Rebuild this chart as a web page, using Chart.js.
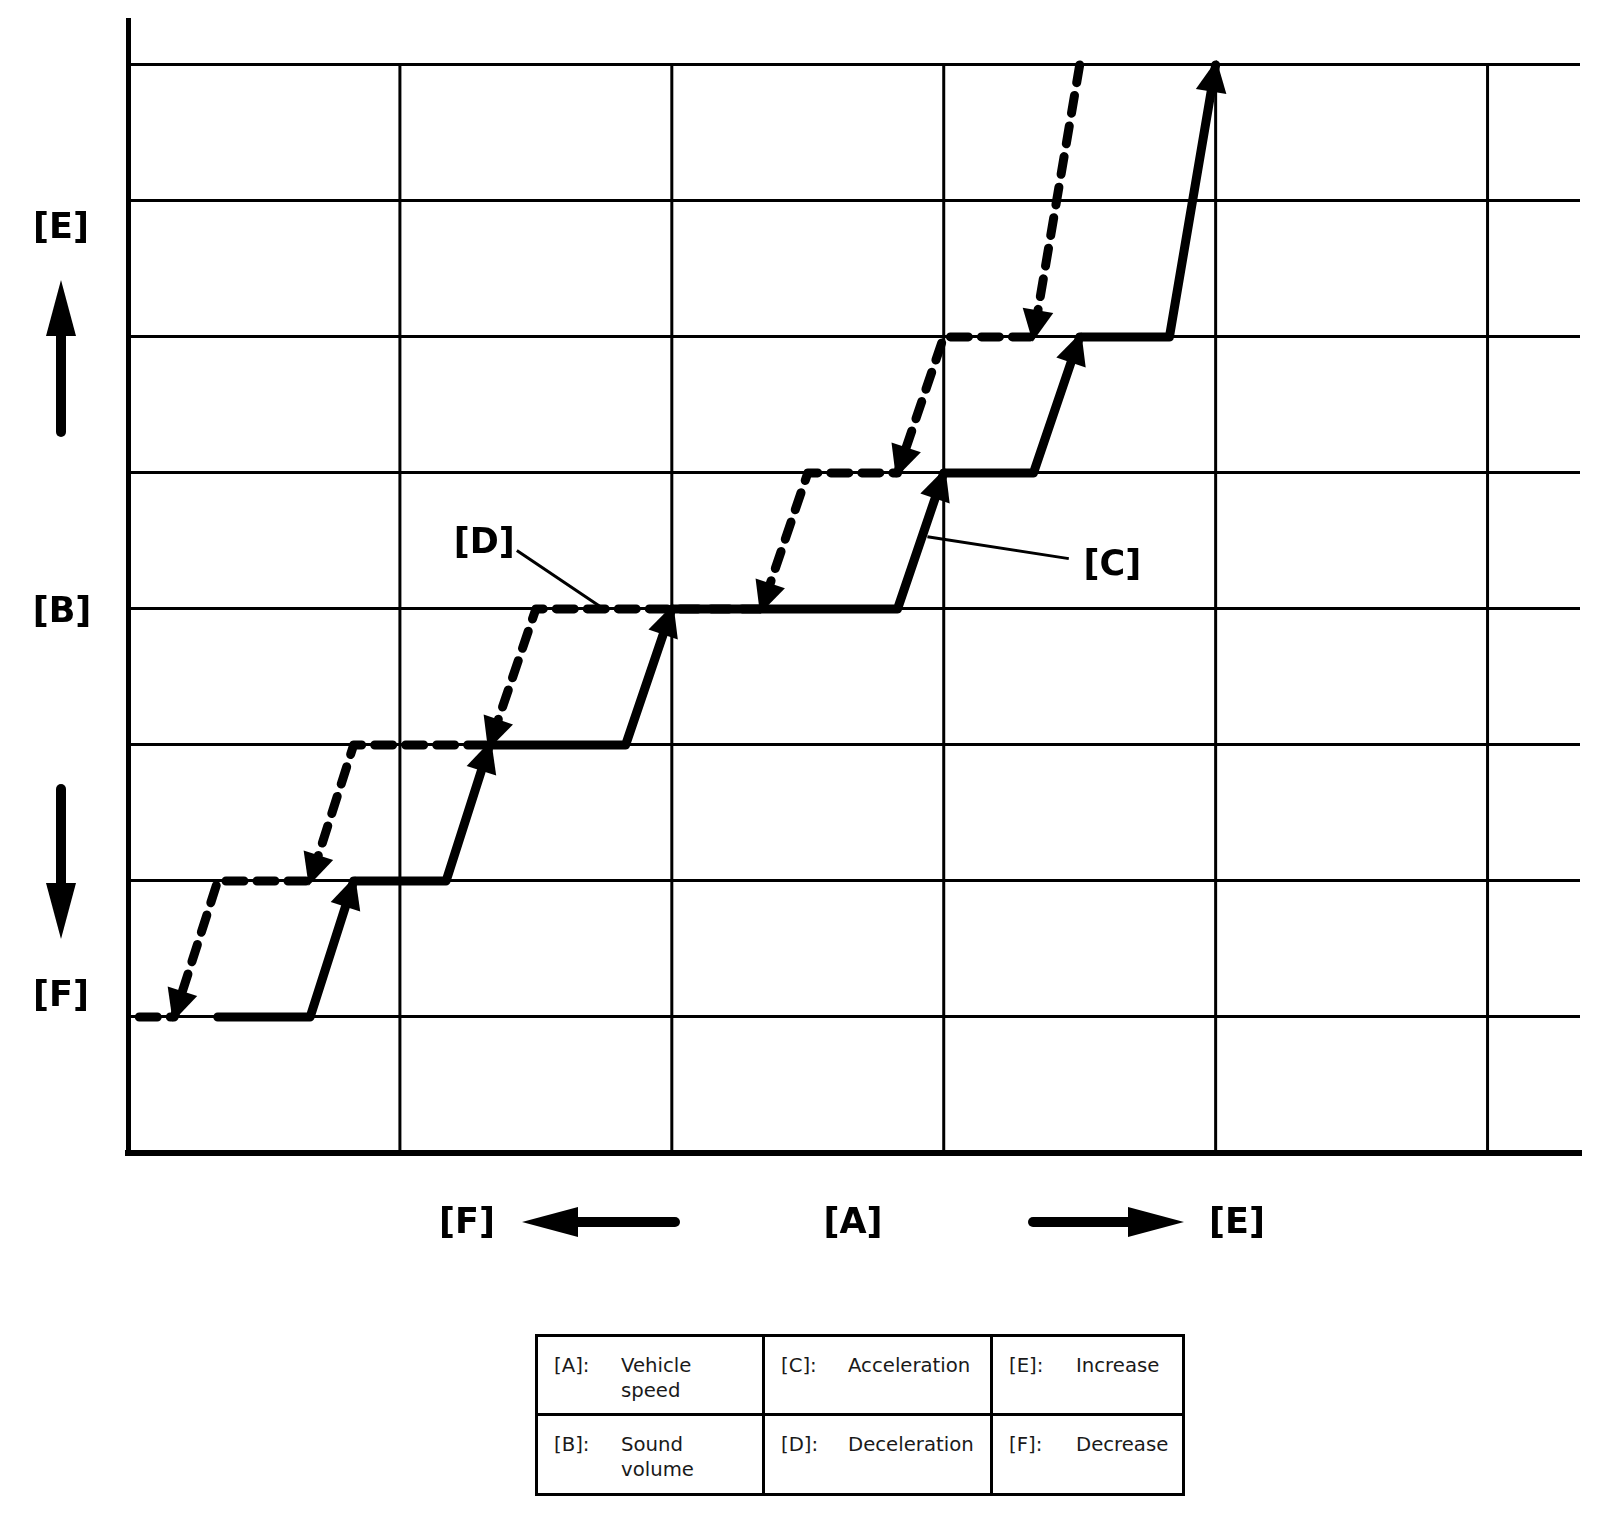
<!DOCTYPE html>
<html>
<head>
<meta charset="utf-8">
<script src="https://cdn.jsdelivr.net/npm/chart.js@4.4.0/dist/chart.umd.min.js"></script>
<style>
  html, body { margin: 0; padding: 0; background: #fff; }
  #wrap { position: relative; width: 1600px; height: 1514px; }
  #chart { position: absolute; left: 0; top: 0; }
  #key {
    position: absolute; left: 535px; top: 1334px;
    display: grid; grid-template-columns: 224px 225px 189px; grid-template-rows: 76px 77px;
    gap: 3px; padding: 3px; background: #000;
    font-family: "DejaVu Sans", sans-serif; font-size: 19.7px; line-height: 24.5px; color: #1a1a1a;
  }
  #key .cell { background: #fff; position: relative; }
  #key .code { position: absolute; top: 17px; left: 16px; }
  #key .term { position: absolute; top: 17px; left: 83px; }
</style>
</head>
<body>
<div id="wrap">
  <canvas id="chart" width="1600" height="1514"></canvas>
  <div id="key"></div>
</div>
<script>
// grid positions (speed on x, sound volume on y)
var tickX = [0, 1, 2, 3, 4, 5];
var tickY = [0, 1, 2, 3, 4, 5, 6, 7, 8];

// [C] acceleration path (solid)
var accelSpeed  = [0.33, 0.67, 0.83, 1.17, 1.33, 1.83, 2.0, 2.83, 3.0, 3.33, 3.5, 3.83, 4.0];
var accelVolume = [1,    1,    2,    2,    3,    3,    4,   4,    5,   5,    6,   6,    8];

// [D] deceleration path (dashed)
var decelSpeed  = [3.5, 3.33, 3.0, 2.83, 2.5, 2.33, 1.5, 1.33, 0.83, 0.67, 0.33, 0.17, 0.0];
var decelVolume = [8,   6,    6,   5,    5,   4,    4,   3,    3,    2,    2,    1,    1];

// key table
var legendCodes = [['[A]:', '[C]:', '[E]:'], ['[B]:', '[D]:', '[F]:']];
var legendTerms = [[['Vehicle', 'speed'], ['Acceleration'], ['Increase']],
                   [['Sound', 'volume'], ['Deceleration'], ['Decrease']]];

var key = document.getElementById('key');
legendCodes.forEach(function(row, r){
    row.forEach(function(code, c){
        var cell = document.createElement('div');
        cell.className = 'cell';
        cell.innerHTML = '<span class="code">' + code + '</span><span class="term">' +
            legendTerms[r][c].join('<br>') + '</span>';
        key.appendChild(cell);
    });
});

function toPoints(xs, ys){
    return xs.map(function(v, i){ return {x: v, y: ys[i]}; });
}

// filled triangle whose tip sits just past (x1,y1), pointing along (x0,y0)->(x1,y1)
function arrowHead(ctx, x0, y0, x1, y1, len, wid, over){
    var dx = x1 - x0, dy = y1 - y0;
    var L = Math.sqrt(dx * dx + dy * dy);
    dx /= L; dy /= L;
    var tx = x1 + dx * over, ty = y1 + dy * over;
    var bx = tx - dx * len, by = ty - dy * len;
    ctx.beginPath();
    ctx.moveTo(tx, ty);
    ctx.lineTo(bx - dy * wid / 2, by + dx * wid / 2);
    ctx.lineTo(bx + dy * wid / 2, by - dx * wid / 2);
    ctx.closePath();
    ctx.fill();
}

function bigArrow(ctx, x0, y0, x1, y1){
    var dx = x1 - x0, dy = y1 - y0;
    var L = Math.sqrt(dx * dx + dy * dy);
    ctx.save();
    ctx.lineWidth = 10;
    ctx.lineCap = 'round';
    ctx.beginPath();
    ctx.moveTo(x0, y0);
    ctx.lineTo(x1 - dx / L * 40, y1 - dy / L * 40);
    ctx.stroke();
    arrowHead(ctx, x0, y0, x1, y1, 56, 30, 0);
    ctx.restore();
}

var decor = {
    id: 'decor',
    beforeDatasetsDraw: function(chart){
        var ctx = chart.ctx, x = chart.scales.x, y = chart.scales.y;
        ctx.save();
        ctx.strokeStyle = '#000';
        ctx.lineWidth = 3;
        tickX.forEach(function(v){
            if (v === 0) return;
            var px = x.getPixelForValue(v);
            ctx.beginPath();
            ctx.moveTo(px, y.getPixelForValue(0));
            ctx.lineTo(px, y.getPixelForValue(tickY[tickY.length - 1]));
            ctx.stroke();
        });
        ctx.restore();
    },
    afterDatasetsDraw: function(chart){
        var ctx = chart.ctx, x = chart.scales.x, y = chart.scales.y;
        ctx.save();
        ctx.fillStyle = '#000';
        ctx.strokeStyle = '#000';

        // heads on every sloped step
        chart.data.datasets.forEach(function(ds, di){
            var pts = chart.getDatasetMeta(di).data;
            for (var i = 1; i < pts.length; i++) {
                if (Math.abs(pts[i].y - pts[i - 1].y) < 1) continue;
                arrowHead(ctx, pts[i - 1].x, pts[i - 1].y, pts[i].x, pts[i].y, 32, 31, 5);
            }
        });

        // leader lines
        ctx.lineWidth = 3;
        ctx.beginPath();
        ctx.moveTo(x.getPixelForValue(1.43), y.getPixelForValue(4.43));
        ctx.lineTo(x.getPixelForValue(1.75), y.getPixelForValue(4.0));
        ctx.moveTo(x.getPixelForValue(3.46), y.getPixelForValue(4.37));
        ctx.lineTo(x.getPixelForValue(2.94), y.getPixelForValue(4.53));
        ctx.stroke();

        ctx.font = 'bold 35px "DejaVu Sans"';
        ctx.textAlign = 'center';
        ctx.textBaseline = 'middle';
        ctx.fillText('[D]', x.getPixelForValue(1.31), y.getPixelForValue(4.48));
        ctx.fillText('[C]', x.getPixelForValue(3.62), y.getPixelForValue(4.32));

        // side labels and direction arrows
        ctx.fillText('[E]', 61, 229);
        ctx.fillText('[B]', 62, 613);
        ctx.fillText('[F]', 61, 997);
        bigArrow(ctx, 61, 432, 61, 280);
        bigArrow(ctx, 61, 789, 61, 939);

        ctx.fillText('[F]', 467, 1224);
        ctx.fillText('[A]', 853, 1224);
        ctx.fillText('[E]', 1237, 1224);
        bigArrow(ctx, 675, 1222, 522, 1222);
        bigArrow(ctx, 1033, 1222, 1184, 1222);
        ctx.restore();
    }
};

var ctx = document.getElementById('chart').getContext('2d');
var chart = new Chart(ctx, {
    type: 'scatter',
    data: {
        datasets: [
            {
                label: 'Acceleration',
                data: toPoints(accelSpeed, accelVolume),
                showLine: true,
                borderColor: '#000',
                borderWidth: 9,
                borderCapStyle: 'round',
                borderJoinStyle: 'round',
                pointRadius: 0,
                tension: 0
            },
            {
                label: 'Deceleration',
                data: toPoints(decelSpeed, decelVolume),
                showLine: true,
                borderColor: '#000',
                borderWidth: 9,
                borderDash: [18, 13],
                borderCapStyle: 'round',
                borderJoinStyle: 'round',
                pointRadius: 0,
                tension: 0
            }
        ]
    },
    options: {
        responsive: false,
        animation: false,
        devicePixelRatio: 1,
        layout: { padding: { left: 128, top: 20, right: 20, bottom: 361 } },
        plugins: { legend: { display: false }, tooltip: { enabled: false } },
        scales: {
            x: {
                type: 'linear', min: 0, max: 5.34,
                afterBuildTicks: function(s){ s.ticks = tickX.map(function(v){ return {value: v}; }); },
                ticks: { display: false },
                grid: { display: true, drawTicks: false, color: 'rgba(0,0,0,0)', lineWidth: 3 },
                border: { display: true, width: 6, color: '#000' }
            },
            y: {
                type: 'linear', min: 0, max: 8.33,
                afterBuildTicks: function(s){ s.ticks = tickY.map(function(v){ return {value: v}; }); },
                ticks: { display: false },
                grid: {
                    drawTicks: false, lineWidth: 3,
                    color: function(c){ return c.tick && c.tick.value === 0 ? 'rgba(0,0,0,0)' : '#000'; }
                },
                border: { display: true, width: 5, color: '#000' }
            }
        }
    },
    plugins: [decor]
});
</script>
</body>
</html>
